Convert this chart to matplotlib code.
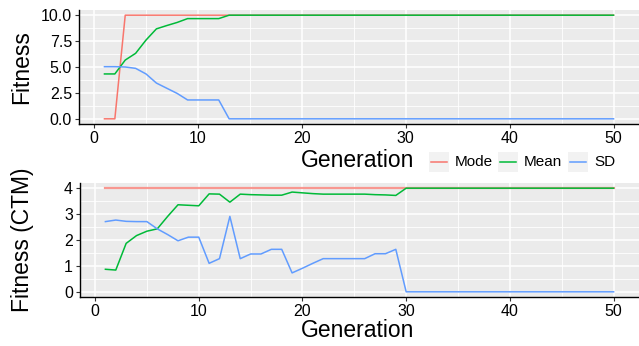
import matplotlib
matplotlib.use("Agg")
import matplotlib.pyplot as plt
from matplotlib.patches import Rectangle
from matplotlib.lines import Line2D
from matplotlib.ticker import MultipleLocator, FormatStrFormatter

plt.rcParams['font.family'] = ['Liberation Sans', 'DejaVu Sans']

generations = list(range(1, 51))

# Top panel: Fitness
top_mode = [0, 0] + [10] * 48
top_mean = [4.33, 4.33, 5.67, 6.32, 7.6, 8.68, 9.0, 9.3, 9.67, 9.67, 9.67, 9.67] + [10] * 38
top_sd = [5.03, 5.03, 5.0, 4.87, 4.33, 3.45, 2.95, 2.45, 1.82, 1.82, 1.82, 1.82] + [0] * 38

# Bottom panel: Fitness (CTM)
bot_mode = [4] * 50
bot_mean = [0.87, 0.84, 1.87, 2.17, 2.34, 2.43, 2.91, 3.36, 3.34, 3.32,
            3.78, 3.77, 3.46, 3.77, 3.75, 3.74, 3.73, 3.73, 3.85, 3.82,
            3.79, 3.77, 3.77, 3.77, 3.77, 3.77, 3.75, 3.74, 3.72] + [4] * 21
bot_sd = [2.71, 2.77, 2.72, 2.71, 2.71, 2.43, 2.21, 1.97, 2.11, 2.11,
          1.10, 1.28, 2.91, 1.28, 1.46, 1.46, 1.64, 1.64, 0.73, 0.91,
          1.10, 1.28, 1.28, 1.28, 1.28, 1.28, 1.47, 1.47, 1.64] + [0] * 21

series_names = ["Mode", "Mean", "SD"]
colors = ["#F8766D", "#00BA38", "#619CFF"]

W, H = 639, 346
fig = plt.figure(figsize=(W / 100, H / 100), dpi=100)

def px_axes(left, top, right, bottom):
    return fig.add_axes([left / W, 1 - bottom / H, (right - left) / W, (bottom - top) / H])

ax1 = px_axes(79, 10, 639, 124)
ax2 = px_axes(80, 183, 639, 297)

def style(ax, ymaj, ymin, ylim, ylabel, yfmt=None):
    ax.set_facecolor("#EBEBEB")
    ax.set_xlim(-1.45, 52.45)
    ax.set_ylim(*ylim)
    ax.xaxis.set_major_locator(MultipleLocator(10))
    ax.xaxis.set_minor_locator(MultipleLocator(5))
    ax.yaxis.set_major_locator(MultipleLocator(ymaj))
    ax.yaxis.set_minor_locator(MultipleLocator(ymin))
    ax.grid(which="major", color="white", lw=1.1)
    ax.grid(which="minor", color="white", lw=0.6)
    ax.set_axisbelow(True)
    for s in ["top", "right"]:
        ax.spines[s].set_visible(False)
    for s in ["left", "bottom"]:
        ax.spines[s].set_color("black")
        ax.spines[s].set_linewidth(1.0)
    ax.tick_params(which="major", length=3, width=0.8, color="#333333",
                   labelsize=11.5, labelcolor="black", pad=2)
    ax.tick_params(which="minor", length=0)
    if yfmt:
        ax.yaxis.set_major_formatter(yfmt)
    ax.set_ylabel(ylabel, fontsize=16.5)
    ax.yaxis.set_label_coords(-0.082, 0.5)

style(ax1, 2.5, 1.25, (-0.5, 10.5), "Fitness", FormatStrFormatter("%.1f"))
style(ax2, 1, 0.5, (-0.2, 4.2), "Fitness (CTM)")

for vals, c in zip([top_mode, top_mean, top_sd], colors):
    ax1.plot(generations, vals, color=c, lw=1.1)
ax2.plot(generations, bot_mode, color=colors[0], lw=1.6, alpha=0.75)
for vals, c in zip([bot_mean, bot_sd], colors[1:]):
    ax2.plot(generations, vals, color=c, lw=1.1)

fig.text(358 / W, 1 - 167 / H, "Generation", fontsize=16.5, ha="center", va="baseline")
fig.text(358 / W, 1 - 337 / H, "Generation", fontsize=16.5, ha="center", va="baseline")

# Legend
key_x = [429, 498, 568]
for x0, name, c in zip(key_x, series_names, colors):
    fig.patches.append(Rectangle((x0 / W, 1 - 172 / H), 20 / W, 20 / H,
                                 transform=fig.transFigure, facecolor="#F2F2F2",
                                 edgecolor="none"))
    fig.lines.append(Line2D([(x0 + 2) / W, (x0 + 18) / W], [1 - 162 / H] * 2,
                            transform=fig.transFigure, color=c, lw=1.1))
    fig.text((x0 + 26) / W, 1 - 162 / H, name, fontsize=11, va="center", ha="left")

fig.savefig("out.png", dpi=100)
